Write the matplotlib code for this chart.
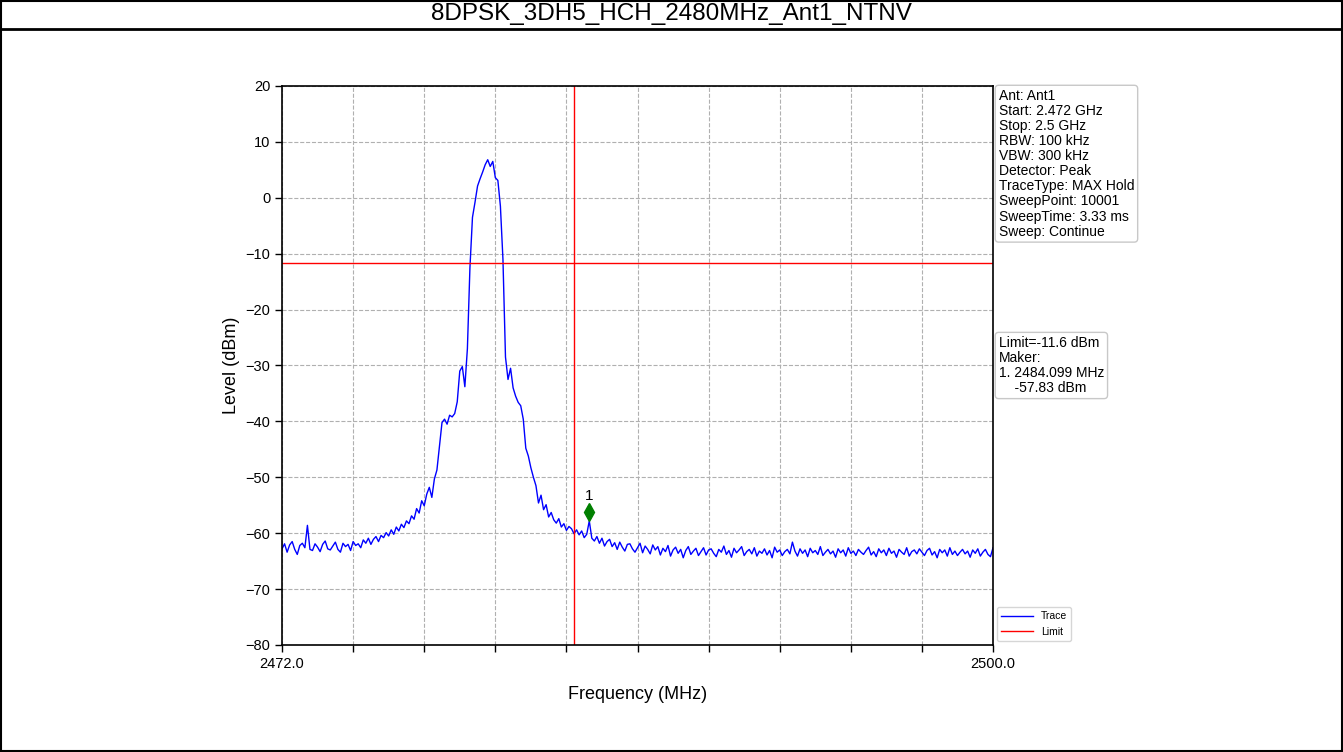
import numpy as np
import matplotlib.pyplot as plt
from matplotlib.patches import Rectangle

plt.rcParams['font.family'] = ['Liberation Sans', 'DejaVu Sans']

# DATA
title = "8DPSK_3DH5_HCH_2480MHz_Ant1_NTNV"
freq_start = 2472.0
freq_stop = 2500.0
# trace level (dBm), one reading every 0.1 MHz from 2472.0 to 2500.0
level = [
    -62.8, -61.9, -63.4, -62.1, -61.5, -62.9, -63.8, -62.2, -61.8, -62.6,
    -58.6, -62.9, -63.1, -61.9, -62.5, -63.3, -62.0, -61.4, -62.8, -63.0,
    -62.3, -61.6, -62.9, -63.4, -61.8, -62.4, -62.0, -63.1, -61.5, -62.2,
    -61.9, -62.6, -61.2, -61.8, -60.9, -62.0, -61.1, -60.6, -61.5, -60.4,
    -60.8, -59.9, -60.5, -59.4, -60.2, -58.9, -59.6, -58.4, -59.0, -57.8,
    -58.3, -56.9, -57.5, -55.6, -56.4, -54.2, -55.1, -53.0, -51.8, -53.6,
    -50.3, -48.7, -44.5, -40.2, -39.6, -40.5, -38.9, -39.2, -38.6, -36.5,
    -31.0, -30.2, -33.8, -27.0, -12.5, -3.5, -0.8, 2.1, 3.4, 4.6,
    5.9, 6.8, 5.6, 6.5, 3.6, 3.1, -1.5, -11.0, -28.5, -32.5,
    -30.5, -34.0, -35.5, -36.6, -37.2, -39.6, -44.8, -46.2, -48.3, -50.0,
    -51.5, -54.6, -53.2, -55.8, -54.9, -57.1, -56.3, -57.6, -58.2, -57.4,
    -58.9, -58.3, -59.5, -58.8, -59.2, -60.1, -59.4, -60.3, -59.6, -60.8,
    -60.2, -57.8, -60.9, -61.4, -60.6, -61.8, -60.9, -62.3, -61.5, -61.1,
    -62.4, -61.7, -62.9, -61.6, -62.5, -63.2, -62.0, -61.9, -62.8, -63.4,
    -62.6, -61.8, -63.5, -62.3, -62.9, -63.7, -62.1, -63.0, -62.4, -63.9,
    -62.7, -63.3, -62.2, -64.1, -63.0, -62.5, -63.6, -62.9, -64.4, -63.1,
    -62.4, -63.8, -63.2, -62.7, -64.0, -63.3, -62.6, -63.9, -63.0, -62.8,
    -63.6, -64.2, -62.9, -63.4, -62.3, -63.8, -63.1, -64.3, -62.7, -63.5,
    -63.0, -62.4, -64.0, -63.3, -62.9, -63.7, -62.6, -64.1, -63.2, -63.6,
    -62.8, -63.9, -63.1, -64.4, -62.5, -63.4, -63.0, -64.0, -63.3, -62.9,
    -63.7, -61.6, -63.2, -64.1, -62.8, -63.6, -63.0, -64.2, -62.7, -63.5,
    -63.1, -63.8, -62.4, -64.0, -63.4, -62.9, -63.7, -63.2, -64.3, -62.8,
    -63.5, -63.0, -64.1, -62.6, -63.6, -63.2, -64.0, -62.9, -63.4, -63.8,
    -63.1, -62.5, -63.9, -63.3, -64.2, -62.8, -63.5, -63.0, -64.0, -62.7,
    -63.6, -63.2, -64.3, -62.9, -63.4, -63.8, -62.6, -64.1, -63.3, -63.0,
    -63.7, -62.8, -63.4, -64.0, -63.1, -62.7, -63.9, -63.3, -64.4, -62.9,
    -63.5, -63.0, -64.1, -62.6, -63.8, -63.2, -64.0, -63.4, -62.9, -63.7,
    -63.2, -64.3, -63.0, -63.6, -62.8, -64.1, -63.4, -62.9, -63.8, -64.2,
    -62.6,
]
limit_level = -11.6
band_edge = 2483.5
marker_freq = 2484.099
marker_level = -57.83
info_lines = ["Ant: Ant1", "Start: 2.472 GHz", "Stop: 2.5 GHz", "RBW: 100 kHz",
              "VBW: 300 kHz", "Detector: Peak", "TraceType: MAX Hold",
              "SweepPoint: 10001", "SweepTime: 3.33 ms", "Sweep: Continue"]

freq = np.linspace(freq_start, freq_stop, len(level))

fig = plt.figure(figsize=(13.43, 7.52), dpi=100)

# outer frame and title bar
fig.patches.append(Rectangle((0.0008, 0.0013), 0.9985, 0.9974, transform=fig.transFigure,
                             fill=False, edgecolor='black', linewidth=1.5))
fig.add_artist(plt.Line2D([0, 1], [0.9615, 0.9615], color='black', linewidth=2))
fig.text(0.5, 0.981, title, ha='center', va='center', fontsize=17.5)

ax = fig.add_axes([0.21, 0.1423, 0.5294, 0.7434])
ax.plot(freq, level, color='blue', linewidth=1.0, label='Trace')
ax.axhline(limit_level, color='red', linewidth=1, label='Limit')
ax.axvline(band_edge, color='red', linewidth=1)
ax.plot(marker_freq, marker_level + 1.6, marker='d', color='green', markersize=9)
ax.text(marker_freq, marker_level + 3.2, "1", ha='center', va='bottom', fontsize=11)

ax.set_xlim(freq_start, freq_stop)
ax.set_ylim(-80, 20)
ax.set_xticks(np.linspace(freq_start, freq_stop, 11))
ax.set_xticklabels(["2472.0"] + [""] * 9 + ["2500.0"])
ax.set_yticks(np.arange(-80, 21, 10))
ax.tick_params(labelsize=10.5, width=1, length=5)
ax.grid(True, linestyle='--', color='#b0b0b0', linewidth=0.8)
for s in ax.spines.values():
    s.set_linewidth(1.2)
ax.set_xlabel("Frequency (MHz)", fontsize=13, labelpad=11)
ax.set_ylabel("Level (dBm)", fontsize=13)

box = dict(boxstyle='round,pad=0.25', facecolor='white', edgecolor='#c8c8c8')
ax.text(1.008, 0.995, "\n".join(info_lines), transform=ax.transAxes,
        ha='left', va='top', fontsize=10, linespacing=1.1, bbox=box)
ax.text(1.008, 0.553, "Limit=%.1f dBm\nMaker:\n1. %.3f MHz\n    %.2f dBm" %
        (limit_level, marker_freq, marker_level), transform=ax.transAxes,
        ha='left', va='top', fontsize=10, linespacing=1.1, bbox=box)
ax.legend(loc='lower left', bbox_to_anchor=(1.0, 0.0), fontsize=7.5, frameon=True,
          handlelength=3, borderaxespad=0.4)

fig.savefig("out.png", dpi=100)
